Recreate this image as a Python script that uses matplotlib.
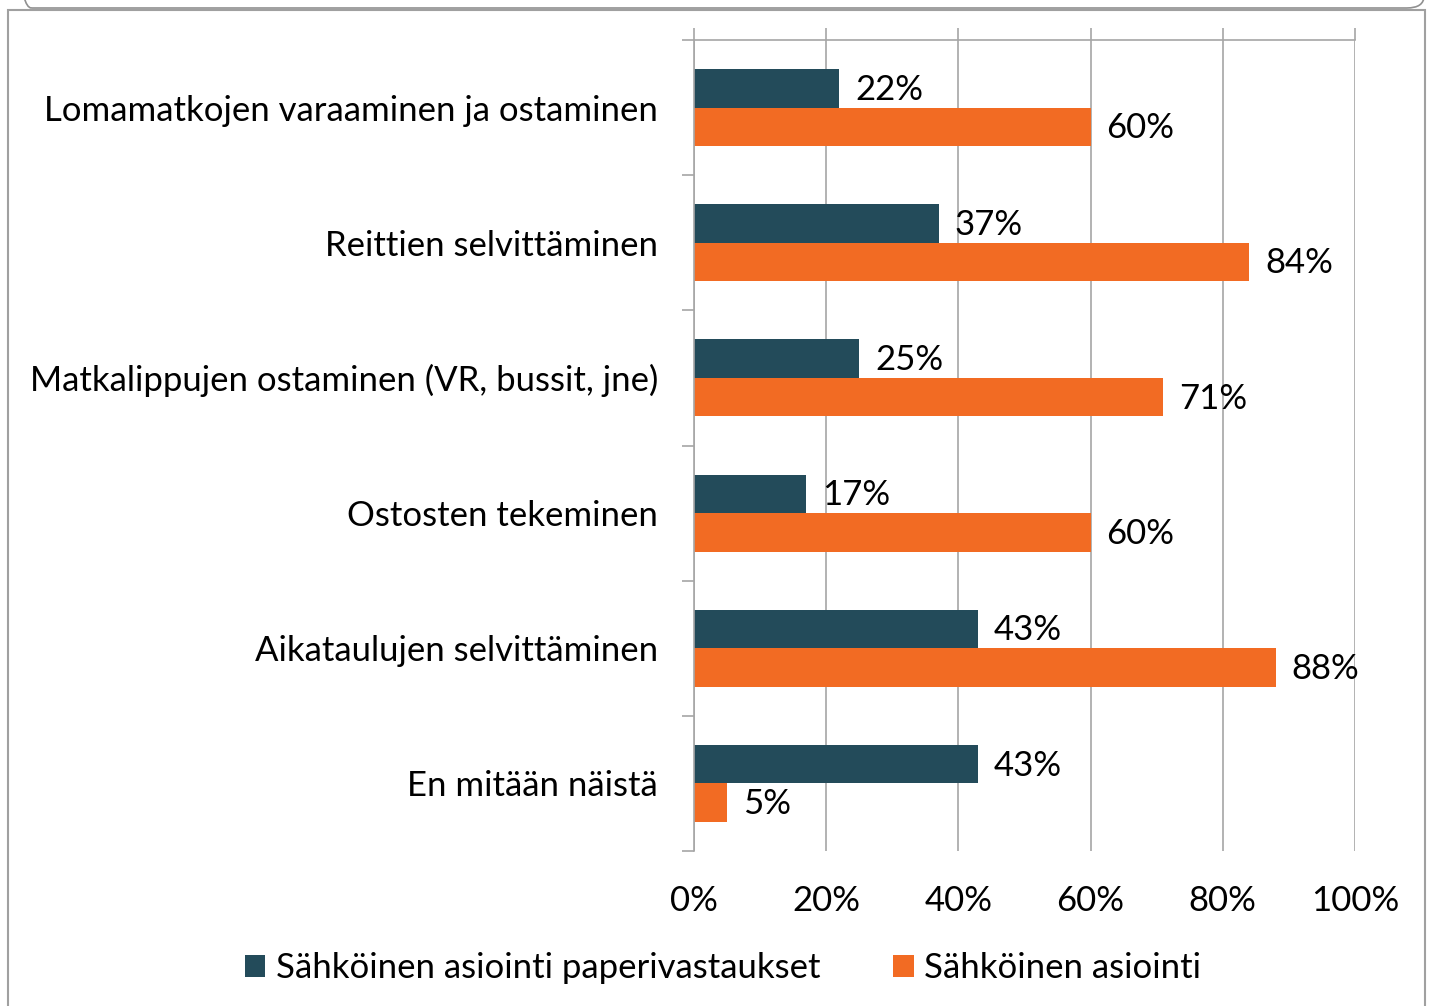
import matplotlib
matplotlib.use("Agg")
import matplotlib.pyplot as plt
from matplotlib.patches import FancyBboxPatch, Rectangle
import numpy as np

categories = ["Lomamatkojen varaaminen ja ostaminen", "Reittien selvittäminen",
              "Matkalippujen ostaminen (VR, bussit, jne)", "Ostosten tekeminen",
              "Aikataulujen selvittäminen", "En mitään näistä"]
paper = [22, 37, 25, 17, 43, 43]
electronic = [60, 84, 71, 60, 88, 5]
series_names = ["Sähköinen asiointi paperivastaukset", "Sähköinen asiointi"]
xticks = [0, 20, 40, 60, 80, 100]
xticklabels = ["0%", "20%", "40%", "60%", "80%", "100%"]

DARK = "#234B5A"
ORANGE = "#F26B23"
GRID = "#A6A6A6"
FONT = "Lato"
FS = 25

plt.rcParams['font.family'] = [FONT, 'DejaVu Sans']

W, H = 1438, 1006
fig = plt.figure(figsize=(W/100, H/100), dpi=100)

# outer frame
frame = Rectangle((8/W, -0.02), (1425-8)/W, (H-10)/H + 0.02, transform=fig.transFigure,
                  fill=False, edgecolor="#A0A0A0", linewidth=1.5)
fig.patches.append(frame)
top_box = FancyBboxPatch((14/W, 1 - 8/H), 1410/W, 0.2,
                         boxstyle="round,pad=0,rounding_size=0.012",
                         transform=fig.transFigure, fill=False,
                         edgecolor="#909090", linewidth=1.2)
fig.patches.append(top_box)

ax = fig.add_axes([694/W, (H-851)/H, (1355-694)/W, (851-40)/H])
y = np.arange(len(categories))
h = 0.285
b1 = ax.barh(y - h/2, paper, height=h, color=DARK, label=series_names[0])
b2 = ax.barh(y + h/2, electronic, height=h, color=ORANGE, label=series_names[1])
ax.set_ylim(len(categories) - 0.5, -0.5)
ax.set_xlim(0, 100)

for bars, vals in ((b1, paper), (b2, electronic)):
    for r, v in zip(bars, vals):
        ax.text(v + 2.4, r.get_y() + r.get_height()/2 + 0.01, f"{v}%", va="center", ha="left",
                fontsize=FS, color="black")

ax.set_xticks(xticks)
ax.set_xticklabels(xticklabels, fontsize=FS)
ax.tick_params(axis='x', bottom=False, top=True, labelbottom=True, labeltop=False,
               direction='out', length=8.6, color=GRID, width=1.2, pad=16)
ax.xaxis.grid(True, color=GRID, linewidth=1.2)
ax.set_axisbelow(True)

ax.set_yticks(y)
ax.set_yticklabels(categories, fontsize=FS)
ax.set_yticks(np.arange(-0.5, len(categories)), minor=True)
ax.tick_params(axis='y', which='major', length=0, pad=26)
ax.tick_params(axis='y', which='minor', length=8.6, color=GRID, width=1.2, direction='out')

for s in ['right', 'bottom']:
    ax.spines[s].set_visible(False)
for s in ['left', 'top']:
    ax.spines[s].set_color(GRID)
    ax.spines[s].set_linewidth(1.2)

leg = fig.legend(handles=[b1, b2], loc='center', bbox_to_anchor=(723/W, 1 - 968/H),
                 ncol=2, frameon=False, fontsize=FS, handlelength=0.6, handleheight=0.6,
                 handletextpad=0.3, columnspacing=2.1)

fig.savefig("out.png", dpi=100)
